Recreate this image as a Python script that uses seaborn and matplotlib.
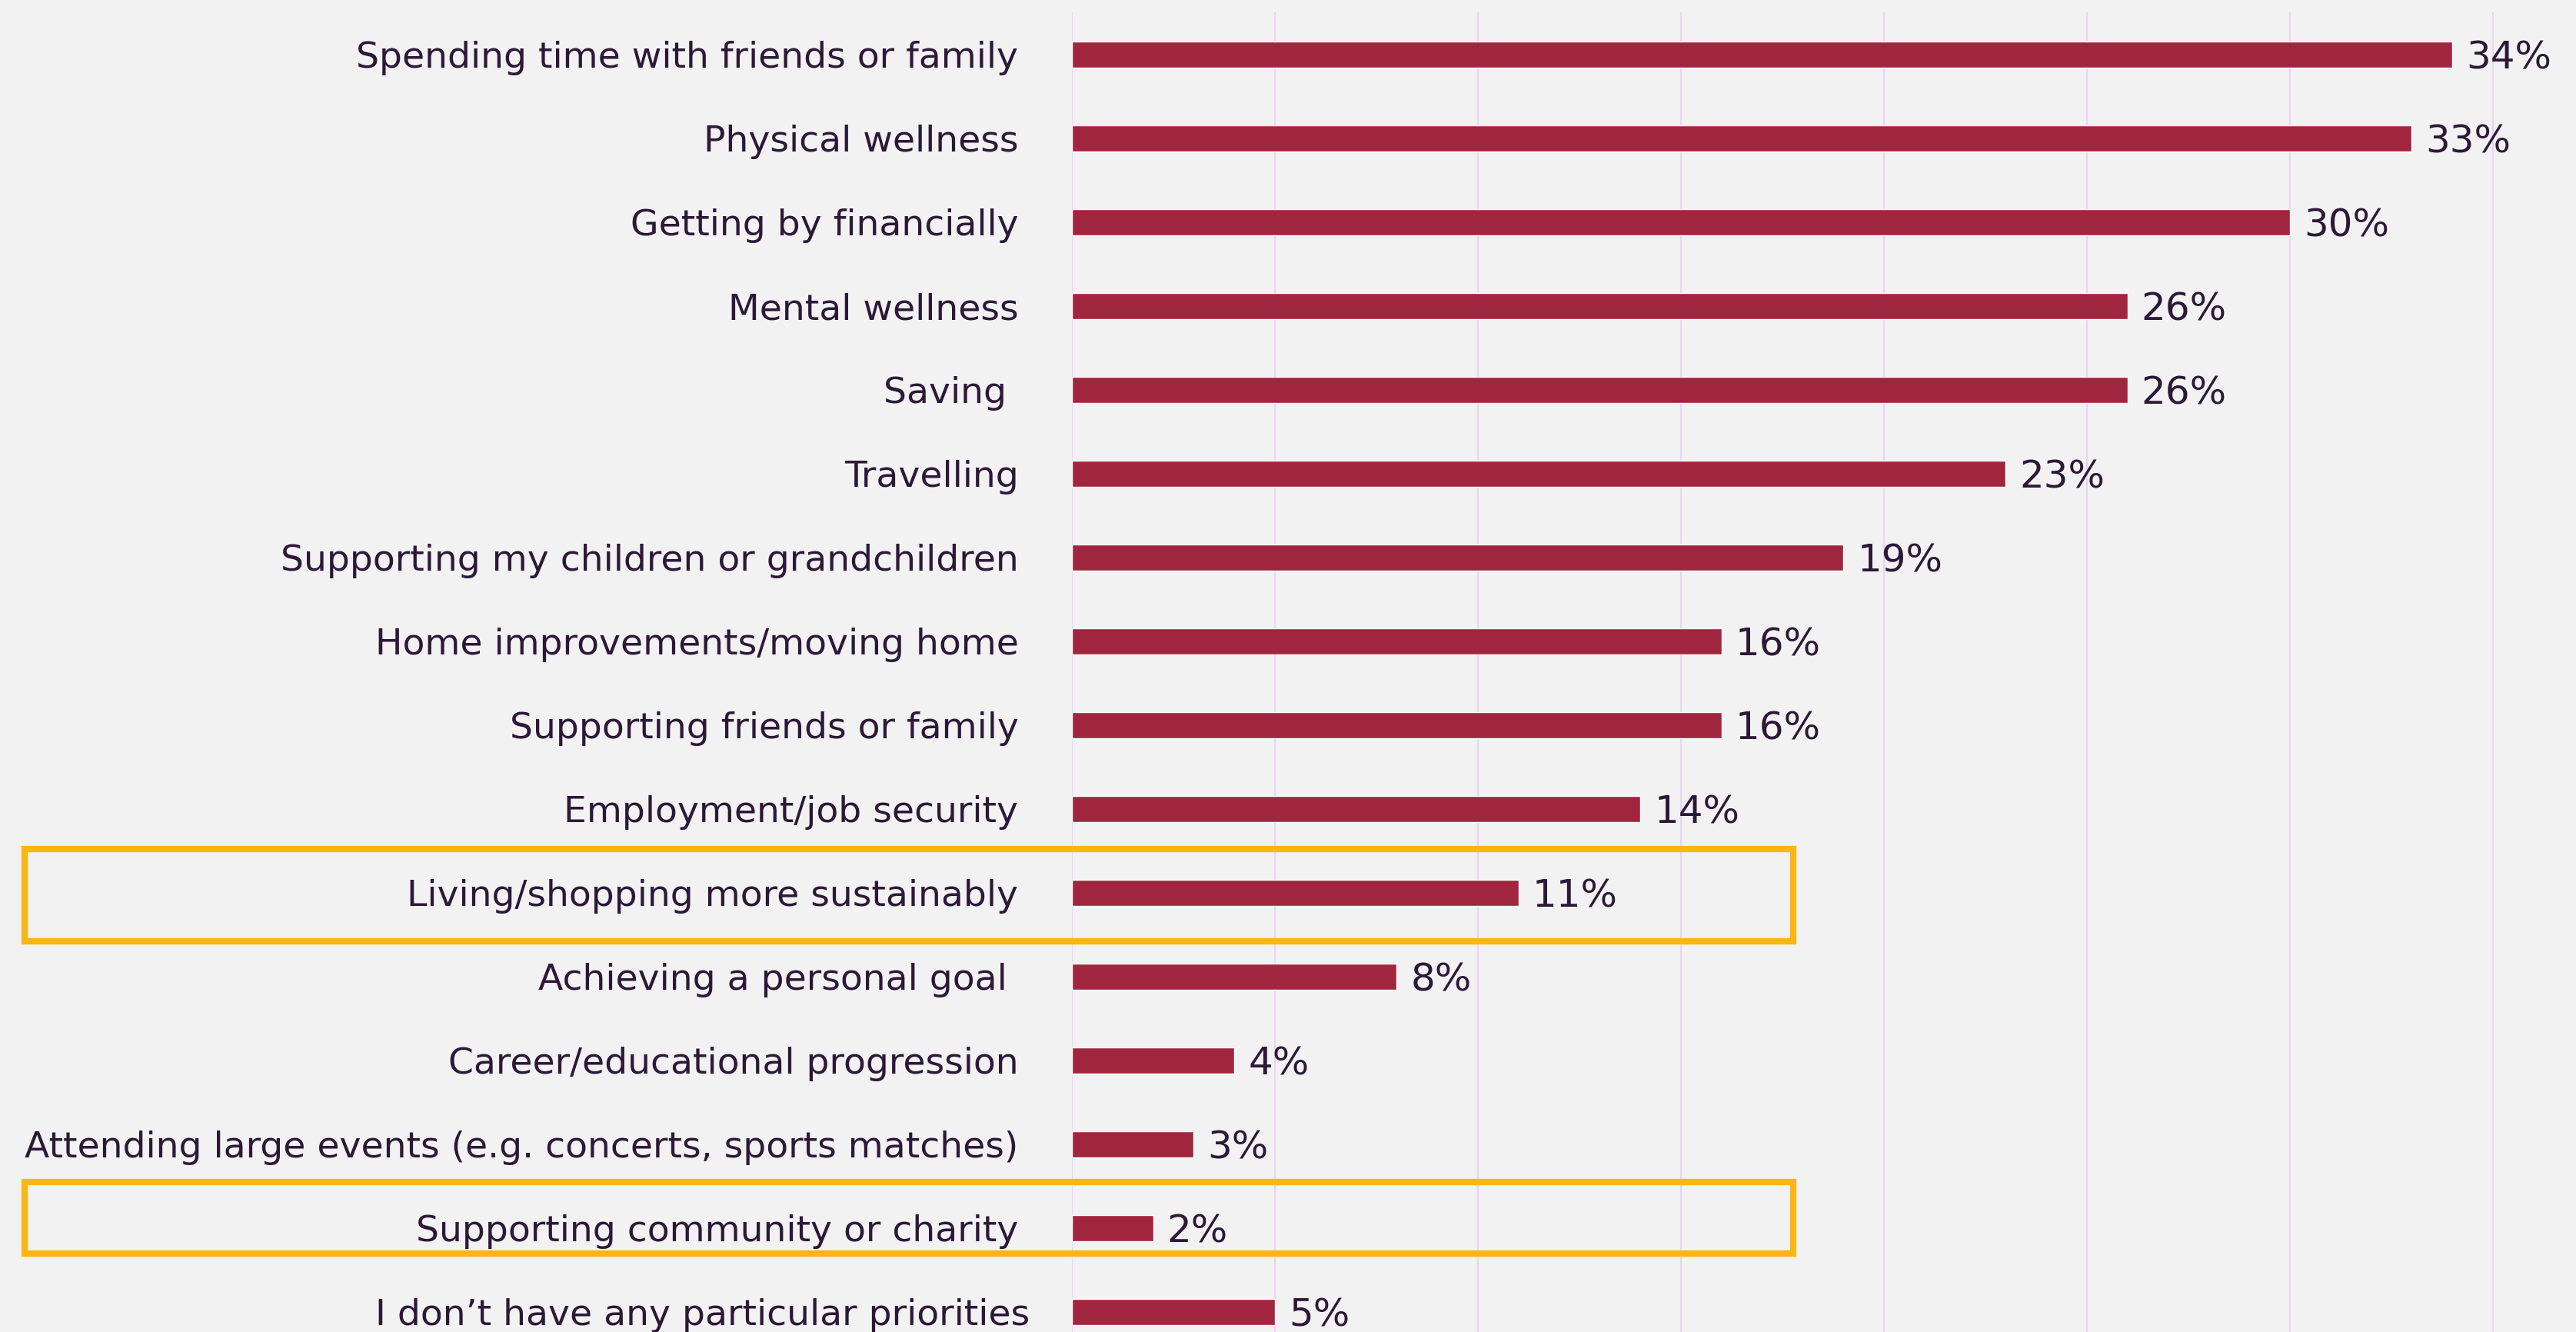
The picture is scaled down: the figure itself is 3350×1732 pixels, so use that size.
import matplotlib
matplotlib.use("Agg")
import matplotlib.pyplot as plt
import matplotlib.transforms as mtransforms
from matplotlib.patches import Rectangle
import seaborn as sns
import pandas as pd

categories = [
    "Spending time with friends or family",
    "Physical wellness",
    "Getting by financially",
    "Mental wellness",
    "Saving ",
    "Travelling",
    "Supporting my children or grandchildren",
    "Home improvements/moving home",
    "Supporting friends or family",
    "Employment/job security",
    "Living/shopping more sustainably",
    "Achieving a personal goal ",
    "Career/educational progression",
    "Attending large events (e.g. concerts, sports matches)",
    "Supporting community or charity",
    "I don\u2019t have any particular priorities",
]
values = [34, 33, 30, 26, 26, 23, 19, 16, 16, 14, 11, 8, 4, 3, 2, 5]
highlighted = ["Living/shopping more sustainably", "Supporting community or charity"]
grid_ticks = [0, 5, 10, 15, 20, 25, 30, 35]

BG = "#F2F2F2"
BAR = "#A0263F"
TXT = "#2D1838"
GRID = "#E9D6EF"
GOLD = "#FBB615"

sns.set_theme(style="white")
plt.rcParams["font.family"] = ["DejaVu Sans"]

df = pd.DataFrame({"category": categories, "value": values})

fig = plt.figure(figsize=(33.5, 17.32), dpi=100, facecolor=BG)
ax = fig.add_axes([0.4161, 0.0, 0.5839, 0.9905])
ax.set_facecolor(BG)

sns.barplot(data=df, x="value", y="category", color=BAR, saturation=1,
            width=0.31, ax=ax, orient="h")

ax.set_xlim(0, 37.05)
ax.set_ylim(15.24, -0.5)
ax.set_xticks(grid_ticks)
ax.set_xticklabels([])
ax.tick_params(axis="x", length=0)
ax.tick_params(axis="y", length=0, pad=50, labelsize=34, labelcolor=TXT)
ax.xaxis.grid(True, color=GRID, linewidth=1.6)
ax.yaxis.grid(False)
ax.set_axisbelow(True)
for s in ax.spines.values():
    s.set_visible(False)
ax.set_xlabel("")
ax.set_ylabel("")

# the last label sits slightly further right in the original
last = ax.get_yticklabels()[-1]
last.set_transform(last.get_transform() +
                   mtransforms.ScaledTranslation(0.15, 0, fig.dpi_scale_trans))

for c in ax.containers:
    texts = ax.bar_label(c, labels=[f"{v}%" for v in values], padding=13,
                         fontsize=36, color=TXT)
    for t in texts:
        t.set_va("center_baseline")

# highlight boxes (x in figure fraction, y in data)
trans = mtransforms.blended_transform_factory(fig.transFigure, ax.transData)
box_offsets = {"Living/shopping more sustainably": (-0.525, 0.578),
               "Supporting community or charity": (-0.55, 0.30)}
for name in highlighted:
    i = categories.index(name)
    lo, hi = box_offsets[name]
    r = Rectangle((0.0096, i + lo), 0.6865, hi - lo, transform=trans,
                  fill=False, edgecolor=GOLD, linewidth=6, clip_on=False, zorder=5)
    fig.add_artist(r)

fig.savefig("out.png", dpi=100, facecolor=BG)
